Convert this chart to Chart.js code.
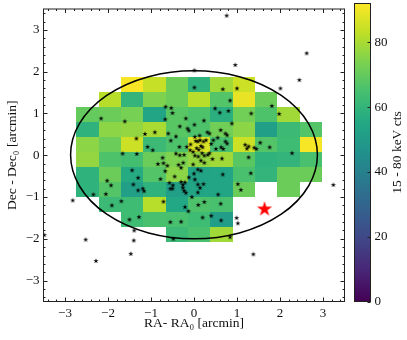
<!DOCTYPE html>
<html><head><meta charset="utf-8">
<script src="https://cdn.jsdelivr.net/npm/chart.js@4.4.1/dist/chart.umd.min.js"></script>
<style>
html,body{margin:0;padding:0;background:#fff;}
#wrap{position:relative;width:407px;height:340px;overflow:hidden;}
#main{position:absolute;left:0;top:0;}
#cb{position:absolute;left:346px;top:0;}
</style></head><body>
<div id="wrap"><canvas id="main" width="407" height="340"></canvas><canvas id="cb" width="61" height="340"></canvas></div>
<script>
// ---------- data ----------
const colX = [-2.48,-1.96,-1.44,-0.92,-0.40,0.12,0.64,1.16,1.68,2.20,2.72];   // RA bin centres
const rowY = [1.70,1.34,0.98,0.62,0.26,-0.10,-0.46,-0.82,-1.18,-1.54,-1.90];  // Dec bin centres
const row0  = [null,null,91,84,71,59,79,85,null,null,null];
const row1  = [null,82,60,74,71,82,67,89,71,null,null];
const row2  = [70,71,73,54,68,66,58,72,66,79,null];
const row3  = [59,76,77,80,68,66,72,76,52,62,67];
const row4  = [76,71,85,62,66,87,65,85,67,63,91];
const row5  = [77,66,64,71,74,77,79,68,59,60,65];
const row6  = [59,71,56,67,76,53,54,65,60,71,71];
const row7  = [59,67,52,59,52,54,54,71,null,71,null];
const row8  = [null,62,63,82,55,66,65,null,null,null,null];
const row9  = [null,null,63,65,65,63,51,null,null,null,null];
const row10 = [null,null,null,null,62,65,79,null,null,null,null];
const cts = [row0,row1,row2,row3,row4,row5,row6,row7,row8,row9,row10];

const starRA  = [-0.66,-0.53,-0.50,-2.16,-1.61,-0.67,-0.19,0.01,-0.33,-0.15,-0.12,-0.91,-1.14,-0.60,-0.42,-1.34,-0.54,0.02,-1.08,-0.96,-0.34,-0.17,-0.08,0.04,-0.02,0.06,-1.66,-1.33,-0.73,-0.42,-0.33,-0.23,-0.09,0.02,
 2.45,2.01,1.00,0.67,0.84,1.81,0.49,0.60,0.80,1.33,1.98,0.23,0.88,0.31,0.36,0.62,0.73,0.77,0.13,0.55,0.45,0.28,0.73,0.77,0.40,0.51,0.63,0.68,1.19,1.27,1.23,1.40,1.45,1.54,1.76,2.28,0.09,0.14,0.22,0.16,0.20,0.11,0.19,0.32,0.24,0.36,0.10,0.43,0.65,1.27,
 -0.84,-0.71,-0.62,-0.36,-0.25,-0.30,-0.02,0.09,-1.44,-0.67,-0.45,-0.12,0.00,-1.30,-2.02,-1.93,-1.41,-0.78,-0.57,-0.30,-0.26,-0.21,-0.49,0.02,0.09,-0.55,-0.50,-0.23,-0.26,-1.30,-1.19,-1.16,-2.34,-2.05,-0.19,-0.05,-1.69,-0.71,-1.91,-0.21,-0.13,0.10,-1.28,-1.50,-0.55,-0.30,-1.39,-0.48,-2.52,-1.40,
 0.16,0.24,0.16,0.67,1.32,0.22,0.14,0.09,1.02,1.09,0.56,0.24,0.62,0.20,0.40,0.63,0.99,1.02,0.84,
 3.24,1.38,-2.82,-1.47,-2.28,0.76,2.62,0.96,0.01,-3.48,0.01];
const starDec = [1.16,1.13,1.01,0.88,0.81,0.86,0.88,0.73,0.69,0.64,0.59,0.55,0.51,0.52,0.45,0.40,0.35,0.44,0.20,0.12,0.20,0.20,0.26,0.34,0.08,0.17,0.04,0.03,-0.06,0.04,0.00,0.01,0.12,-0.01,
 1.80,1.60,1.60,1.58,1.31,1.18,1.12,1.02,1.06,1.00,0.99,0.83,0.76,0.55,0.52,0.60,0.52,0.48,0.47,0.42,0.36,0.36,0.33,0.28,0.27,0.15,0.19,0.15,0.25,0.21,0.16,0.18,0.15,0.30,0.19,0.05,0.33,0.36,0.33,0.22,0.19,0.13,0.05,0.01,-0.01,0.05,-0.03,-0.09,-0.08,-0.05,
 -0.21,-0.19,-0.25,-0.23,-0.18,-0.30,-0.22,-0.34,-0.36,-0.38,-0.51,-0.53,-0.44,-0.54,-0.61,-0.72,-0.70,-0.57,-0.66,-0.64,-0.71,-0.65,-0.72,-0.58,-0.70,-0.80,-0.80,-0.85,-0.78,-0.84,-0.80,-0.86,-0.94,-0.93,-0.90,-1.00,-1.10,-1.11,-1.20,-1.24,-1.34,-1.19,-1.48,-1.54,-1.60,-1.59,-1.80,-2.00,-2.02,-2.04,
 -0.13,-0.18,-0.37,-0.46,-0.43,-0.69,-0.78,-0.89,-0.69,-0.83,-0.94,-1.12,-1.16,-1.49,-1.45,-1.56,-1.50,-1.63,-1.96,
 -0.71,-2.37,-1.08,-2.36,-2.53,3.34,2.44,2.16,2.03,-1.91,1.62];
const srcRA = [1.64];
const srcDec = [-1.29];

const xTicks = [-3,-2,-1,0,1,2,3];
const yTicks = [-3,-2,-1,0,1,2,3];
const cbTicks = [0,20,40,60,80];
const cbMax = 92;

// ---------- styles ----------
const FONT = 'Liberation Serif, Times New Roman, serif';
const CW = 0.52, CH = 0.36;               // cell size (arcmin)
const ELL = {cx:0, cy:0.01, a:2.87, b:2.01};
const VIR = ['#440154','#482475','#414487','#355f8d','#2a788e','#21918c','#22a884','#44bf70','#7ad151','#bddf26','#fde725'];
function hex(c){return [parseInt(c.substr(1,2),16),parseInt(c.substr(3,2),16),parseInt(c.substr(5,2),16)];}
function viridis(f){
  f=Math.max(0,Math.min(1,f)); const p=f*10, i=Math.min(9,Math.floor(p)), t=p-i;
  const a=hex(VIR[i]), b=hex(VIR[i+1]);
  return 'rgb('+a.map((v,k)=>Math.round(v+(b[k]-v)*t)).join(',')+')';
}
function starImg(R, color){
  const s=Math.ceil(R*2+2); const c=document.createElement('canvas'); c.width=s; c.height=s;
  const g=c.getContext('2d'); g.translate(s/2,s/2); g.beginPath();
  const r=R*0.382;
  for(let k=0;k<10;k++){const ang=-Math.PI/2+k*Math.PI/5; const rr=k%2?r:R; g.lineTo(rr*Math.cos(ang), rr*Math.sin(ang));}
  g.closePath(); g.fillStyle=color; g.fill(); return c;
}
const fmt = v => v<0 ? '\u2212'+Math.abs(v) : String(v);
const noPad = s => { s.paddingTop=0; s.paddingBottom=0; s.paddingLeft=0; s.paddingRight=0; };

const heatPlugin = {
  id:'heat',
  beforeDatasetsDraw(chart){
    const {ctx, chartArea:a, scales:{x,y}} = chart;
    ctx.save();
    ctx.beginPath(); ctx.rect(a.left,a.top,a.right-a.left,a.bottom-a.top); ctx.clip();
    cts.forEach((row,j)=>row.forEach((v,i)=>{
      if(v==null) return;
      const x0=Math.round(x.getPixelForValue(colX[i]-CW/2)), x1=Math.round(x.getPixelForValue(colX[i]+CW/2));
      const y0=Math.round(y.getPixelForValue(rowY[j]+CH/2)), y1=Math.round(y.getPixelForValue(rowY[j]-CH/2));
      ctx.fillStyle=viridis(v/cbMax); ctx.fillRect(x0,y0,x1-x0,y1-y0);
    }));
    const cx=x.getPixelForValue(ELL.cx), cy=y.getPixelForValue(ELL.cy);
    const rx=x.getPixelForValue(ELL.cx+ELL.a)-cx, ry=cy-y.getPixelForValue(ELL.cy+ELL.b);
    ctx.beginPath(); ctx.ellipse(cx,cy,rx,ry,0,0,Math.PI*2);
    ctx.strokeStyle='#000'; ctx.lineWidth=1.5; ctx.stroke();
    ctx.restore();
  },
  afterDraw(chart){
    const {ctx, chartArea:a, scales:{x,y}} = chart;
    ctx.save(); ctx.strokeStyle='#222'; ctx.lineWidth=1;
    ctx.strokeRect(a.left,a.top,a.right-a.left,a.bottom-a.top);
    ctx.beginPath();
    for(let k=-17;k<=17;k++){
      const v=k/5, len=(k%5===0)?4:2;
      const px=Math.round(x.getPixelForValue(v))+0.5;
      ctx.moveTo(px,a.bottom); ctx.lineTo(px,a.bottom-len);
      ctx.moveTo(px,a.top); ctx.lineTo(px,a.top+len);
      const py=Math.round(y.getPixelForValue(v))+0.5;
      ctx.moveTo(a.left,py); ctx.lineTo(a.left+len,py);
      ctx.moveTo(a.right,py); ctx.lineTo(a.right-len,py);
    }
    ctx.stroke(); ctx.restore();
  }
};

const tickFont = {family:FONT, size:13};
const titleFont = {family:FONT, size:13.5};

new Chart(document.getElementById('main'), {
  type:'scatter',
  data:{datasets:[
    {data:starRA.map((v,i)=>({x:v,y:starDec[i]})), pointStyle:starImg(2.8,'#000'), pointRadius:3},
    {data:srcRA.map((v,i)=>({x:v,y:srcDec[i]})), pointStyle:starImg(8,'#ff0000'), pointRadius:8}
  ]},
  options:{
    responsive:false, animation:false, devicePixelRatio:1,
    layout:{padding:{top:3.5,right:62.5,left:0,bottom:0}},
    plugins:{legend:{display:false}, tooltip:{enabled:false}},
    scales:{
      x:{type:'linear', min:-3.5, max:3.5,
        afterBuildTicks:s=>{s.ticks=xTicks.map(v=>({value:v}));},
        afterFit:s=>{s.height=38.5; noPad(s);},
        grid:{display:false, drawTicks:false}, border:{display:false},
        ticks:{color:'#111', font:tickFont, padding:4, maxRotation:0, autoSkip:false, callback:v=>fmt(v)},
        title:{display:true, text:'RA- RA\u2080 [arcmin]', color:'#111', font:titleFont, padding:{top:0,bottom:8}}
      },
      y:{type:'linear', min:-3.5, max:3.5,
        afterBuildTicks:s=>{s.ticks=yTicks.map(v=>({value:v}));},
        afterFit:s=>{s.width=43.5; noPad(s);},
        grid:{display:false, drawTicks:false}, border:{display:false},
        ticks:{color:'#111', font:tickFont, padding:4, autoSkip:false, callback:v=>fmt(v)},
        title:{display:true, text:'Dec - Dec\u2080 [arcmin]', color:'#111', font:titleFont, padding:{top:4,bottom:0}}
      }
    }
  },
  plugins:[heatPlugin]
});

const cbPlugin = {
  id:'cbframe',
  afterDraw(chart){
    const {ctx, chartArea:a, scales:{y}} = chart;
    ctx.save(); ctx.strokeStyle='#222'; ctx.lineWidth=1;
    ctx.strokeRect(a.left,a.top,a.right-a.left,a.bottom-a.top);
    ctx.beginPath();
    cbTicks.forEach(v=>{const py=Math.round(y.getPixelForValue(v))+0.5; ctx.moveTo(a.right,py); ctx.lineTo(a.right-3,py);});
    ctx.stroke();
    ctx.translate(51.7,(a.top+a.bottom)/2); ctx.rotate(-Math.PI/2);
    ctx.fillStyle='#111'; ctx.font='13.5px '+FONT; ctx.textAlign='center'; ctx.textBaseline='middle';
    ctx.fillText('15 - 80 keV cts',0,0);
    ctx.restore();
  }
};
new Chart(document.getElementById('cb'), {
  type:'bar',
  data:{labels:['cts'], datasets:[{data:[cbMax], borderWidth:0, barPercentage:1, categoryPercentage:1,
    backgroundColor:(c)=>{const ch=c.chart, a=ch.chartArea; if(!a) return '#888';
      const g=ch.ctx.createLinearGradient(0,a.bottom,0,a.top);
      VIR.forEach((col,i)=>g.addColorStop(i/10,col)); return g;}}]},
  options:{
    responsive:false, animation:false, devicePixelRatio:1,
    layout:{padding:{left:8.5,top:3.5,bottom:38.5,right:0}},
    plugins:{legend:{display:false}, tooltip:{enabled:false}},
    scales:{
      x:{display:false},
      y:{position:'right', min:0, max:cbMax,
        afterBuildTicks:s=>{s.ticks=cbTicks.map(v=>({value:v}));},
        afterFit:s=>{s.width=36.5; noPad(s);},
        grid:{display:false, drawTicks:false}, border:{display:false},
        ticks:{color:'#111', font:tickFont, padding:4, autoSkip:false}
      }
    }
  },
  plugins:[cbPlugin]
});
</script>
</body></html>
